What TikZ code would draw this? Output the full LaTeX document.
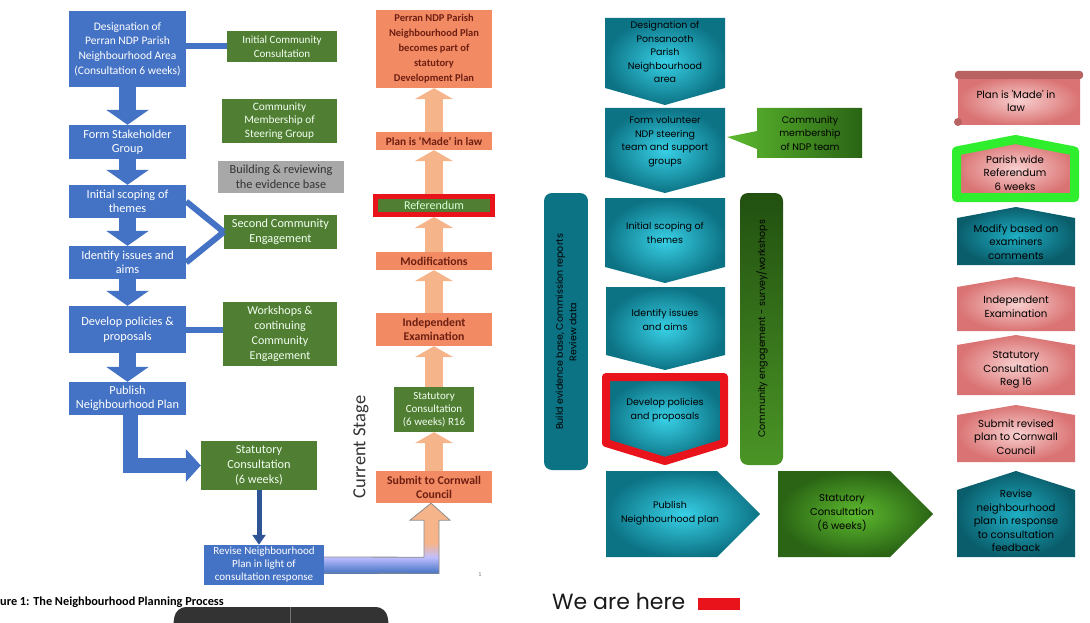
\documentclass[tikz,border=0pt]{standalone}
\usepackage{fontspec}
\setmainfont{Carlito}
\newfontfamily\comic{Poppins}
\usepackage{tikz}
\usetikzlibrary{arrows.meta,calc}
\usepackage{xcolor}

\definecolor{boxblue}{HTML}{4472C4}
\definecolor{dkblue}{HTML}{2F5597}
\definecolor{boxgreen}{HTML}{507E32}
\definecolor{boxgray}{HTML}{A8A8A8}
\definecolor{boxorange}{HTML}{F28A63}
\definecolor{peach}{HTML}{F6B48B}
\definecolor{textred}{HTML}{6E1F12}
\definecolor{hered}{HTML}{E8131B}
\definecolor{tealin}{HTML}{38D0E6}
\definecolor{tealout}{HTML}{0C7385}
\definecolor{dtealin}{HTML}{1FAFC4}
\definecolor{dtealout}{HTML}{0A5E6C}
\definecolor{grnin}{HTML}{5DBA2F}
\definecolor{grnout}{HTML}{2A6414}
\definecolor{pinkin}{HTML}{F8CFCF}
\definecolor{pinkout}{HTML}{DA7373}
\definecolor{rolldark}{HTML}{B86262}
\definecolor{limegreen}{HTML}{2EEE2E}

\begin{document}
\begin{tikzpicture}[x=1pt,y=-1pt,
  bluebox/.style={fill=boxblue, text=white, align=center, inner sep=2pt, minimum width=117pt, font=\fontsize{12.3}{14.5}\selectfont},
  greenbox/.style={fill=boxgreen, text=green!5, align=center, inner sep=2pt, font=\fontsize{12}{14}\selectfont},
  orangebox/.style={fill=boxorange, text=textred, align=center, inner sep=2pt, minimum width=116pt, font=\bfseries\fontsize{11.8}{14}\selectfont},
  downarrow/.style={boxblue, line width=17pt, -{Triangle[width=42pt,length=15pt]}},
  uparrow/.style={peach, line width=18pt, -{Triangle[width=38pt,length=11pt]}},
  link/.style={boxblue, line width=6pt},
  rtext/.style={align=center, text=black, font=\comic\fontsize{9.5}{13.5}\selectfont},
  ptext/.style={rtext, font=\comic\fontsize{10.2}{13.5}\selectfont},
  tealshade/.style={inner color=tealin, outer color=tealout},
  dtealshade/.style={inner color=dtealin, outer color=dtealout},
  grnshade/.style={inner color=grnin, outer color=grnout},
  pinkshade/.style={inner color=pinkin, outer color=pinkout}
]
\useasboundingbox (0,0) rectangle (1090,623);

% left chart
\node[bluebox, minimum height=76pt, font=\fontsize{11.5}{14.7}\selectfont] (desig) at (127.5,49) {Designation of\\Perran NDP Parish\\Neighbourhood Area\\(Consultation 6 weeks)};
\node[bluebox, minimum height=34pt] (stake) at (127.5,142) {Form Stakeholder\\Group};
\node[bluebox, minimum height=33pt] (scope) at (127.5,201.5) {Initial scoping of\\themes};
\node[bluebox, minimum height=33pt] (issues) at (127.5,262.5) {Identify issues and\\aims};
\node[bluebox, minimum height=47pt] (policies) at (127.5,329.5) {Develop policies \&\\proposals};
\node[bluebox, minimum height=33pt] (publish) at (127.5,398.5) {Publish\\Neighbourhood Plan};

\node[greenbox, minimum width=110pt, minimum height=31pt, font=\fontsize{11}{13.5}\selectfont] (initcons) at (282,46.5) {Initial Community\\Consultation};
\node[greenbox, minimum width=115pt, minimum height=44pt, font=\fontsize{11.3}{13.5}\selectfont] (member) at (279.5,121) {Community\\Membership of\\Steering Group};
\node[fill=boxgray, text=black!80, align=center, minimum width=126pt, minimum height=32pt, font=\fontsize{12.3}{14.5}\selectfont] (evidence) at (281,177) {Building \& reviewing\\the evidence base};
\node[greenbox, minimum width=113pt, minimum height=34pt, font=\fontsize{12.3}{14.5}\selectfont] (second) at (280.5,232) {Second Community\\Engagement};
\node[greenbox, minimum width=114pt, minimum height=64pt, font=\fontsize{12}{15}\selectfont] (workshop) at (280,334) {Workshops \&\\continuing\\Community\\Engagement};
\node[greenbox, minimum width=116pt, minimum height=49pt, font=\fontsize{12.3}{15}\selectfont] (statcons) at (259,465.5) {Statutory\\Consultation\\(6 weeks)};
\node[bluebox, minimum width=120pt, minimum height=40pt, font=\fontsize{11}{13}\selectfont] (revise) at (264,565) {Revise Neighbourhood\\Plan in light of\\consultation response};

\draw[link] (desig.east |- initcons.west) -- (initcons.west);
\draw[link] (scope.east) -- (second.west);
\draw[link] (issues.east) -- (second.west);
\draw[link] (policies.east) -- (policies.east -| workshop.west);

\draw[downarrow] (desig.south) -- (stake.north);
\draw[downarrow] (stake.south) -- (scope.north);
\draw[downarrow] (scope.south) -- (issues.north);
\draw[downarrow] (issues.south) -- (policies.north);
\draw[downarrow] (policies.south) -- (publish.north);
\draw[downarrow, line width=15pt, -{Triangle[width=32pt,length=15pt]}, line join=miter] ([xshift=3pt]publish.south) |- (statcons.west);
\draw[dkblue, line width=5pt, -{Triangle[width=13pt,length=10pt]}] (statcons.south) -- (statcons.south |- revise.north);

% middle column
\node[orangebox, minimum height=78pt, font=\bfseries\fontsize{10.5}{15}\selectfont] (devplan) at (434,49) {Perran NDP Parish\\Neighbourhood Plan\\becomes part of\\statutory\\Development Plan};
\node[orangebox, minimum height=18pt, font=\bfseries\fontsize{11.3}{13}\selectfont] (made) at (434,141) {Plan is ‘Made’ in law};
\node[draw=hered, line width=5pt, fill=boxgreen, text=green!15, minimum width=117pt, minimum height=18pt, inner sep=1pt, font=\fontsize{12}{13}\selectfont] (refer) at (434,205.5) {Referendum};
\node[orangebox, minimum height=18pt] (modif) at (434,261) {Modifications};
\node[orangebox, minimum height=33pt] (indep) at (434,329.5) {Independent\\Examination};
\node[greenbox, minimum width=80pt, minimum height=45pt, font=\fontsize{11}{13}\selectfont] (statr16) at (434,409.5) {Statutory\\Consultation\\(6 weeks) R16};
\node[orangebox, minimum height=32pt] (submit) at (434,487) {Submit to Cornwall\\Council};

\draw[uparrow] (made.north) -- (devplan.south);
\draw[uparrow] (refer.north) -- (made.south);
\draw[uparrow] (modif.north) -- (refer.south);
\draw[uparrow] (indep.north) -- (modif.south);
\draw[uparrow] (statr16.north) -- (indep.south);
\draw[uparrow] (submit.north) -- (statr16.south);

\coordinate (tipS) at ([xshift=-3pt]submit.south);
\fill[peach] ([yshift=8pt]revise.east) -- ($(tipS)+(-7,54)$) -- ($(tipS)+(-7,17)$) -- ($(tipS)+(-21,17)$) -- (tipS) -- ($(tipS)+(19,17)$) -- ($(tipS)+(8,17)$) -- ($(tipS)+(8,70)$) -- ([yshift=-8pt]revise.east) -- cycle;
\shade[top color=blue!25, middle color=white, bottom color=boxblue] ([yshift=8pt]revise.east) rectangle ($(tipS)+(8,70)$);
\shade[top color=peach, bottom color=blue!25] ($(tipS)+(-7,40)$) rectangle ($(tipS)+(8,54)$);
\draw[black!45, line width=0.8pt, line join=miter] ([yshift=8pt]revise.east) -- ($(tipS)+(-7,54)$) -- ($(tipS)+(-7,17)$) -- ($(tipS)+(-21,17)$) -- (tipS) -- ($(tipS)+(19,17)$) -- ($(tipS)+(8,17)$) -- ($(tipS)+(8,70)$) -- ([yshift=-8pt]revise.east);

\node[rotate=90, text=black!80, font=\fontsize{18.5}{20}\selectfont] (stage) at (361,447) {Current Stage};
\node[text=black!55, font=\fontsize{6}{7}\selectfont] (pagenum) at (480,575) {1};
\node[anchor=west, inner sep=0pt, font=\bfseries\fontsize{12.3}{14}\selectfont] (caption) at (0,602) {ure 1: The Neighbourhood Planning Process};
\fill[black!80, rounded corners=10pt] (172,632) -- (176,607) -- (386,607) -- (390,632) -- cycle;
\draw[black!55, thin] (290,607) -- (290,623);

% right chart
\shade[tealshade] (605,18) -- (725,18) -- (725,88) -- (665,105) -- (605,88) -- cycle;
\node[rtext] (pdesig) at (665,52) {Designation of\\Ponsanooth\\Parish\\Neighbourhood\\area};
\shade[tealshade] (605,108) -- (725,108) -- (725,177) -- (665,193) -- (605,177) -- cycle;
\node[rtext] (pform) at (665,142) {Form volunteer\\NDP steering\\team and support\\groups};
\shade[left color=grnin, right color=grnout] (757,108) -- (862,108) -- (862,158) -- (757,158) -- (757,149) -- (727,137) -- (757,131) -- cycle;
\node[rtext] (pmember) at (810,133) {Community\\membership\\of NDP team};
\shade[tealshade] (605,198) -- (725,198) -- (725,267) -- (665,283) -- (605,267) -- cycle;
\node[rtext] (pscope) at (665,233) {Initial scoping of\\themes};
\shade[tealshade] (606,287) -- (725,287) -- (725,355) -- (665,370) -- (606,355) -- cycle;
\node[rtext] (pissues) at (665,320) {Identify issues\\and aims};
\shadedraw[tealshade, draw=hered, line width=8pt, line join=round] (606,377) -- (724,377) -- (724,443) -- (665,461) -- (606,443) -- cycle;
\node[rtext] (ppolicies) at (665,410) {Develop policies\\and proposals};
\shade[tealshade] (606,471) -- (717,471) -- (760,514) -- (717,557) -- (606,557) -- cycle;
\node[rtext] (ppublish) at (670,513) {Publish\\Neighbourhood plan};
\shade[grnshade] (778,471) -- (890,471) -- (933,514) -- (890,557) -- (778,557) -- cycle;
\node[rtext, font=\comic\fontsize{10}{14}\selectfont] (pstat) at (842,513) {Statutory\\Consultation\\(6 weeks)};

\shade[left color=tealout, middle color=tealin, right color=tealout, rounded corners=8pt] (544,193) rectangle (588,470);
\node[rtext, rotate=90] (pevid) at (566,332) {Build evidence base, Commission reports\\Review data};
\shade[top color=grnout!80!black, bottom color=grnin!80!black, rounded corners=8pt] (740,193) rectangle (783,465);
\node[rtext, rotate=90] (pengage) at (762,329) {Community engagement - survey/workshops};

\node[anchor=west, inner sep=0pt, text=black!90, font=\comic\fontsize{22}{24}\selectfont] (here) at (552,601) {We are here};
\fill[hered] (698,598) rectangle (740,610);

% right column
\shade[pinkshade] (958,76) rectangle (1080,125);
\fill[rolldark, rounded corners=3pt] (955,71) rectangle (1083,79);
\fill[rolldark] (958,122) circle (4pt);
\node[ptext] (rmade) at (1016,101) {Plan is 'Made' in\\law};
\shadedraw[pinkshade, draw=limegreen, line width=9pt, line join=round] (956.5,151) -- (1015.5,139.5) -- (1074.5,151) -- (1074.5,197.5) -- (956.5,197.5) -- cycle;
\node[ptext] (rrefer) at (1015,173) {Parish wide\\Referendum\\6 weeks};
\shade[dtealshade] (957,218) -- (1016,207) -- (1075,218) -- (1075,265) -- (957,265) -- cycle;
\node[ptext] (rmodify) at (1016,242) {Modify based on\\examiners\\comments};
\shade[pinkshade] (957,287) -- (1016,277) -- (1075,287) -- (1075,331) -- (957,331) -- cycle;
\node[ptext] (rindep) at (1016,307) {Independent\\Examination};
\shade[pinkshade] (957,345) -- (1016,335) -- (1075,345) -- (1075,395) -- (957,395) -- cycle;
\node[ptext] (rstat) at (1016,370) {Statutory\\Consultation\\Reg 16};
\shade[pinkshade] (957,415) -- (1016,405) -- (1075,415) -- (1075,462) -- (957,462) -- cycle;
\node[ptext] (rsubmit) at (1016,437) {Submit revised\\plan to Cornwall\\Council};
\shade[dtealshade] (957,490) -- (1016,471) -- (1075,490) -- (1075,557) -- (957,557) -- cycle;
\node[ptext] (rrevise) at (1016,521) {Revise\\neighbourhood\\plan in response\\to consultation\\feedback};
\end{tikzpicture}
\end{document}
